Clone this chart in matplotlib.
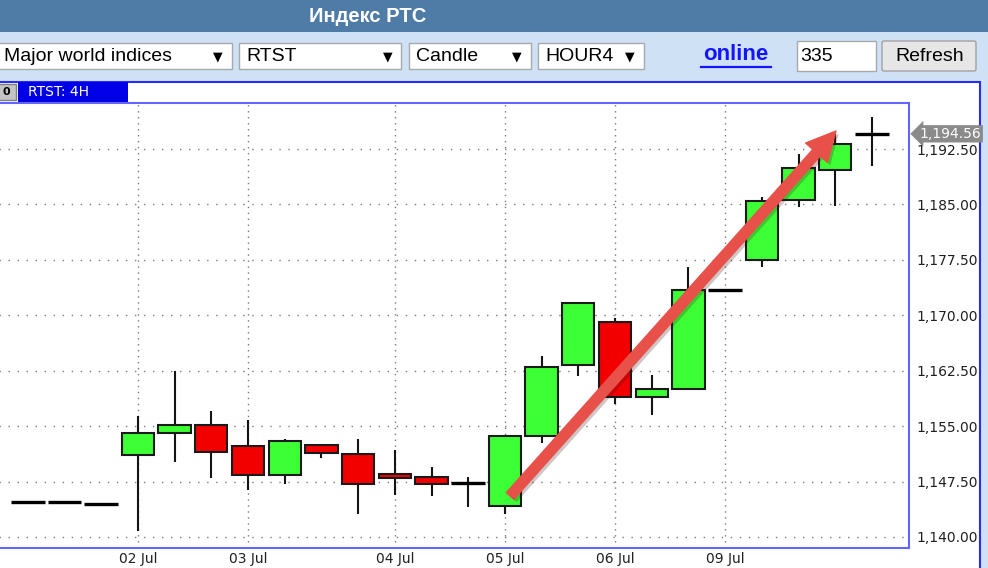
import matplotlib.pyplot as plt
from matplotlib.patches import Rectangle, FancyBboxPatch
from matplotlib.ticker import FuncFormatter
import matplotlib.patheffects as pe
import matplotlib.transforms as mtransforms

# Data (RTST, 4H candles)
opens = [1144.70, 1144.70, 1144.51, 1151.06, 1154.11, 1155.16, 1152.31, 1148.43,
         1152.45, 1151.27, 1148.48, 1148.12, 1147.35, 1144.24, 1153.71, 1163.27,
         1169.13, 1158.98, 1160.03, 1173.42, 1177.44, 1185.60, 1189.66, 1194.56]
highs = [1144.78, 1144.70, 1144.51, 1156.37, 1162.50, 1157.05, 1155.83, 1153.22,
         1152.45, 1153.22, 1151.77, 1149.51, 1148.16, 1153.80, 1164.53, 1171.62,
         1169.59, 1161.92, 1176.58, 1173.42, 1186.05, 1191.79, 1194.76, 1196.87]
lows = [1144.55, 1144.70, 1144.51, 1140.85, 1150.19, 1148.02, 1146.36, 1147.17,
        1150.65, 1143.11, 1145.72, 1145.55, 1144.10, 1143.11, 1152.68, 1161.79,
        1157.96, 1156.51, 1160.03, 1173.42, 1176.48, 1184.70, 1184.79, 1190.24]
closes = [1144.70, 1144.70, 1144.51, 1154.11, 1155.16, 1151.50, 1148.43, 1152.95,
          1151.33, 1147.21, 1148.02, 1147.21, 1147.35, 1153.71, 1163.04, 1171.62,
          1158.98, 1160.03, 1173.42, 1173.42, 1185.43, 1189.89, 1193.14, 1194.56]
date_idx = [3, 6, 10, 13, 16, 19]
date_labels = ['02 Jul', '03 Jul', '04 Jul', '05 Jul', '06 Jul', '09 Jul']
y_ticks = [1140.0, 1147.5, 1155.0, 1162.5, 1170.0, 1177.5, 1185.0, 1192.5]
last_price = 1194.56
trend_start = (13.14, 1145.55)
trend_end = (22.02, 1194.94)

W, H = 988, 568
fig = plt.figure(figsize=(W / 100, H / 100), dpi=100, facecolor='#cfe2f5')

# ---- page chrome (pixel coordinates) ----
bg = fig.add_axes([0, 0, 1, 1], zorder=0)
bg.set_xlim(0, W)
bg.set_ylim(H, 0)
bg.axis('off')

ui = 'Liberation Sans'
bg.add_patch(Rectangle((0, 0), W, 32, fc='#4f7ba7', ec='none'))
bg.text(368, 16, 'Индекс РТС', color='white', fontsize=14.5, fontweight='bold',
        family=ui, ha='center', va='center')

# dropdowns
combos = [(-2, 232, 'Major world indices', 218), (239, 401, 'RTST', 388),
          (409, 531, 'Candle', 517), (538, 644, 'HOUR4', 630)]
for x0, x1, label, ax_arrow in combos:
    bg.add_patch(Rectangle((x0, 43), x1 - x0, 26, fc='white', ec='#a9a9a9', lw=1))
    bg.text(x0 + 7 if x0 > 0 else 4, 56.5, label, fontsize=14, family=ui,
            ha='left', va='center', color='black')
    bg.text(ax_arrow, 56.5, '▼', fontsize=9, family='DejaVu Sans',
            ha='center', va='center', color='black')

bg.text(735.5, 55, 'online', fontsize=16, fontweight='bold', family=ui,
        color='#1414ff', ha='center', va='center')
bg.plot([700.5, 770.5], [66.8, 66.8], color='#1414ff', lw=1.6)

bg.add_patch(Rectangle((797, 41), 79, 30, fc='white', ec='#a9a9a9', lw=1))
bg.text(800, 56.5, '335', fontsize=14, family=ui, ha='left', va='center')
bg.add_patch(FancyBboxPatch((882, 41), 94, 30, boxstyle='round,pad=0,rounding_size=2',
                            fc='#e6e6e6', ec='#a0a0a0', lw=1))
bg.text(929.5, 56.5, 'Refresh', fontsize=14, family=ui, ha='center', va='center')

# chart panel + tab
bg.add_patch(Rectangle((-10, 82), 990, 500, fc='white', ec='#2a2aff', lw=1.5))
bg.add_patch(Rectangle((-2, 84), 18, 16, fc='#c4c4c4', ec='#808080', lw=1))
bg.text(2, 92, '0', fontsize=8, fontweight='bold', ha='left', va='center')
bg.add_patch(Rectangle((18, 82), 110, 19.5, fc='#0000e6', ec='none'))
bg.text(28, 92, 'RTST: 4H', color='white', fontsize=10, ha='left', va='center')

# ---- candlestick chart ----
ax = fig.add_axes([-3 / W, (H - 548) / H, 912 / W, (548 - 103) / H], zorder=1)
ax.set_facecolor('white')

idx = list(range(len(opens)))
ax.vlines(idx, lows, highs, color='#141414', lw=1.5, zorder=2)

bx, bb, bh, bc = [], [], [], []
dx, dy = [], []
for i, (o, c) in enumerate(zip(opens, closes)):
    if abs(c - o) < 1e-9:
        dx.append(i)
        dy.append(o)
    else:
        bx.append(i)
        bb.append(min(o, c))
        bh.append(abs(c - o))
        bc.append('#3dff35' if c > o else '#f20000')
ax.bar(bx, bh, bottom=bb, width=0.88, color=bc, edgecolor='#1a1a1a',
       linewidth=1.5, zorder=3)
ax.hlines(dy, [x - 0.46 for x in dx], [x + 0.46 for x in dx],
          color='black', lw=2.4, zorder=3)

ax.set_xlim(-0.84, 24.01)
ax.set_ylim(1138.51, 1198.73)

ax.set_yticks(y_ticks)
ax.yaxis.set_major_formatter(FuncFormatter(lambda v, p: f'{v:,.2f}'))
ax.yaxis.tick_right()
ax.set_xticks(date_idx)
ax.set_xticklabels(date_labels)
ax.tick_params(axis='y', length=0, pad=5.5, labelsize=10, colors='#202020')
ax.tick_params(axis='x', length=0, pad=3, labelsize=10, colors='#202020')

ax.grid(axis='y', color='#7a7a7a', lw=1.0, linestyle=(0, (1, 5.5)))
ax.grid(axis='x', color='#7a7a7a', lw=1.0, linestyle=(0, (1, 3.3)))
ax.set_axisbelow(True)

for side in ['top', 'right', 'bottom']:
    ax.spines[side].set_color('#6464ff')
    ax.spines[side].set_linewidth(1.5)
ax.spines['left'].set_visible(False)

# last price marker
trans = mtransforms.blended_transform_factory(ax.transAxes, ax.transData)
ax.text(1.0115, last_price, f'{last_price:,.2f}', transform=trans, color='white',
        fontsize=10, ha='left', va='center', clip_on=False, zorder=10,
        bbox=dict(boxstyle='larrow,pad=0.12', fc='#8a8a8a', ec='none'))

# trend arrow
ann = ax.annotate('', xy=trend_end, xytext=trend_start,
                  arrowprops=dict(arrowstyle='simple,head_length=2.1,head_width=2.1,tail_width=0.72',
                                  mutation_scale=10, color='#e8504a',
                                  shrinkA=0, shrinkB=0), zorder=6)
ann.arrow_patch.set_path_effects([pe.SimplePatchShadow(offset=(2, -2), alpha=0.25),
                                  pe.Normal()])

fig.savefig('out.png', dpi=100, facecolor=fig.get_facecolor())
